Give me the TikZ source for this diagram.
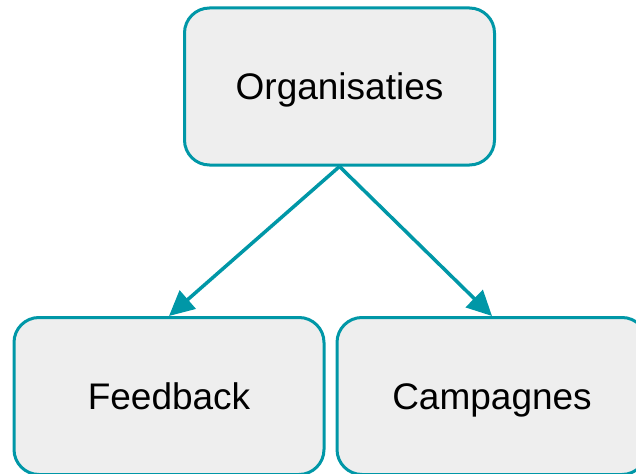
\documentclass[tikz,border=0pt]{standalone}
\usepackage{fontspec}
\setmainfont{Liberation Sans}
\usetikzlibrary{arrows.meta,positioning}
\definecolor{tealline}{HTML}{0097A7}
\definecolor{boxfill}{HTML}{EEEEEE}

\begin{document}
\begin{tikzpicture}[x=1pt,y=-1pt,
  entity/.style={draw=tealline,fill=boxfill,line width=3pt,rounded corners=25pt,
    minimum width=310pt,minimum height=157pt,inner sep=0pt,text height=26pt,text depth=0pt,
    font=\fontsize{37}{44}\selectfont},
  link/.style={draw=tealline,line width=3.5pt,-{Triangle[length=25pt,width=24pt]}}]
\clip (0,0) rectangle (636,473);
\node[entity] (organisaties) at (339.5,86.5) {Organisaties};
\node[entity] (feedback) at (169,396) {Feedback};
\node[entity] (campagnes) at (492,396) {Campagnes};
\draw[link] (organisaties.south) -- (feedback.north);
\draw[link] (organisaties.south) -- (campagnes.north);
\end{tikzpicture}
\end{document}
